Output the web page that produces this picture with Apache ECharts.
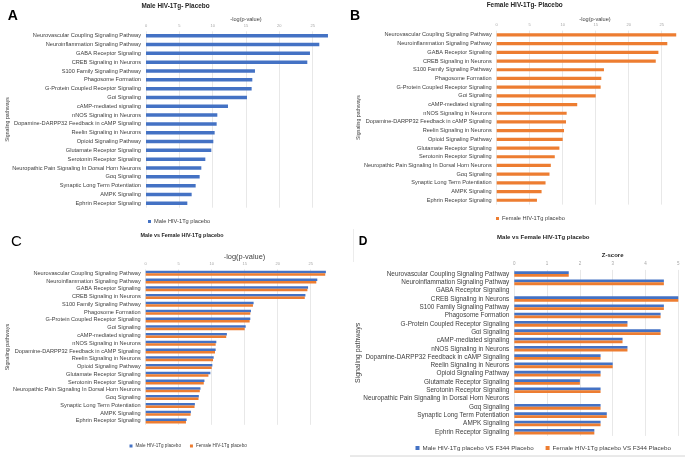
<!DOCTYPE html>
<html>
<head>
<meta charset="utf-8">
<script src="https://cdn.jsdelivr.net/npm/echarts@6/dist/echarts.min.js"></script>
<style>
  html, body { margin: 0; padding: 0; background: #fff; }
  #chart { width: 685px; height: 457px; }
</style>
</head>
<body>
<div id="chart"></div>
<script>
const pathways = [
  'Neurovascular Coupling Signaling Pathway',
  'Neuroinflammation Signaling Pathway',
  'GABA Receptor Signaling',
  'CREB Signaling in Neurons',
  'S100 Family Signaling Pathway',
  'Phagosome Formation',
  'G-Protein Coupled Receptor Signaling',
  'Gαi Signaling',
  'cAMP-mediated signaling',
  'nNOS Signaling in Neurons',
  'Dopamine-DARPP32 Feedback in cAMP Signaling',
  'Reelin Signaling in Neurons',
  'Opioid Signaling Pathway',
  'Glutamate Receptor Signaling',
  'Serotonin Receptor Signaling',
  'Neuropathic Pain Signaling In Dorsal Horn Neurons',
  'Gαq Signaling',
  'Synaptic Long Term Potentiation',
  'AMPK Signaling',
  'Ephrin Receptor Signaling'
];

// -log(p-value)
const maleLogP = [27.3, 26.0, 24.6, 24.2, 16.35, 15.95, 15.85, 15.15, 12.3, 10.7, 10.6, 10.3, 10.1, 9.8, 8.9, 8.3, 8.05, 7.45, 6.85, 6.2];
const femaleLogP = [27.2, 25.85, 24.5, 24.1, 16.25, 15.85, 15.75, 15.0, 12.2, 10.6, 10.5, 10.2, 10.0, 9.5, 8.8, 8.2, 8.0, 7.4, 6.8, 6.1];

// z-scores (no value for GABA and neuropathic pain)
const maleZ = [1.66, 4.56, null, 5.0, 4.56, 4.46, 3.45, 4.46, 3.3, 3.45, 2.63, 3.0, 2.63, 2.0, 2.63, null, 2.63, 2.82, 2.63, 2.44];
const femaleZ = [1.66, 4.56, null, 5.0, 4.56, 4.46, 3.45, 4.46, 3.3, 3.45, 2.63, 3.0, 2.63, 2.0, 2.63, null, 2.63, 2.82, 2.63, 2.44];

const BLUE = '#4472C4';
const ORANGE = '#ED7D31';
const FONT = '"Liberation Sans", Arial, sans-serif';
const LabelColor = '#404040';

const myChart = echarts.init(document.getElementById('chart'), null, { renderer: 'canvas' });

const grids = [
  { left: 146, top: 31.3, width: 183.3, height: 176.4 },
  { left: 496.7, top: 30.6, width: 181.5, height: 174 },
  { left: 145.7, top: 269.4, width: 181.5, height: 155.4 },
  { left: 514.3, top: 269.9, width: 164, height: 166 }
].map(g => Object.assign(g, { outerBoundsMode: 'none' }));

function makeX(i, max, tickSize) {
  return {
    gridIndex: i,
    type: 'value',
    position: 'top',
    min: 0,
    max: max,
    interval: max > 10 ? 5 : 1,
    axisLine: { show: false },
    axisTick: { show: false },
    axisLabel: {
      fontSize: tickSize,
      color: '#a6a6a6',
      fontFamily: FONT,
      margin: 3.5,
      showMaxLabel: max === 5
    },
    splitLine: {
      show: true,
      showMaxLine: max === 5,
      lineStyle: { color: '#d9d9d9', width: 0.6 }
    }
  };
}

function makeY(i, labelSize, nameSize, nameGap) {
  return {
    gridIndex: i,
    type: 'category',
    inverse: true,
    data: pathways,
    axisLine: { show: false },
    axisTick: { show: false },
    axisLabel: { interval: 0, fontSize: labelSize, color: LabelColor, fontFamily: FONT, margin: 5 },
    name: 'Signaling pathways',
    nameLocation: 'middle',
    nameGap: nameGap,
    nameMoveOverlap: false,
    nameTextStyle: { fontSize: nameSize, color: LabelColor, fontFamily: FONT }
  };
}

function bar(name, data, idx, color, width) {
  return {
    name: name,
    type: 'bar',
    xAxisIndex: idx,
    yAxisIndex: idx,
    data: data,
    barWidth: width,
    barGap: '0%',
    itemStyle: { color: color },
    silent: true
  };
}

function txt(text, x, y, size, weight, color) {
  return {
    type: 'text',
    x: x,
    y: y,
    style: {
      text: text,
      fontSize: size,
      fontWeight: weight || 'normal',
      fontFamily: FONT,
      fill: color || '#262626',
      textAlign: 'center',
      textVerticalAlign: 'middle'
    }
  };
}

const option = {
  animation: false,
  grid: grids,
  xAxis: [makeX(0, 27.5, 4), makeX(1, 27.5, 4), makeX(2, 27.5, 4), makeX(3, 5, 4.5)],
  yAxis: [makeY(0, 5.65, 5.2, 136), makeY(1, 5.6, 5.2, 136), makeY(2, 5.6, 5.4, 136), makeY(3, 6.4, 7, 153)],
  legend: [
    {
      left: 143, top: 213.5, itemWidth: 3, itemHeight: 3, icon: 'rect', itemGap: 10,
      data: ['Male HIV-1Tg placebo'],
      textStyle: { fontSize: 5.7, color: LabelColor, fontFamily: FONT, padding: [0, 0, 0, -2] }
    },
    {
      left: 491, top: 210.5, itemWidth: 3, itemHeight: 3, icon: 'rect', itemGap: 10,
      data: ['Female HIV-1Tg placebo'],
      textStyle: { fontSize: 5.7, color: LabelColor, fontFamily: FONT, padding: [0, 0, 0, -2] }
    },
    {
      left: 124.5, top: 438.5, itemWidth: 3, itemHeight: 3, icon: 'rect', itemGap: 9,
      data: ['Male HIV-1Tg placebo', 'Female HIV-1Tg placebo'],
      textStyle: { fontSize: 4.6, color: LabelColor, fontFamily: FONT, padding: [0, 0, 0, -2] }
    },
    {
      left: 410.5, top: 440, itemWidth: 4, itemHeight: 4, icon: 'rect', itemGap: 12,
      data: ['Male HIV-1Tg placebo VS F344 Placebo', 'Female HIV-1Tg placebo VS F344 Placebo'],
      textStyle: { fontSize: 6.2, color: LabelColor, fontFamily: FONT, padding: [0, 0, 0, -2] }
    }
  ],
  series: [
    bar('Male HIV-1Tg placebo', maleLogP, 0, BLUE, 3.5),
    bar('Female HIV-1Tg placebo', femaleLogP, 1, ORANGE, 3.2),
    bar('Male HIV-1Tg placebo', maleLogP, 2, BLUE, 2.5),
    bar('Female HIV-1Tg placebo', femaleLogP, 2, ORANGE, 2.5),
    bar('Male HIV-1Tg placebo VS F344 Placebo', maleZ, 3, BLUE, 2.8),
    bar('Female HIV-1Tg placebo VS F344 Placebo', femaleZ, 3, ORANGE, 2.8)
  ],
  graphic: [
    txt('A', 12.8, 15.7, 14, 'bold', '#000'),
    txt('B', 355, 16.3, 14, 'bold', '#000'),
    txt('C', 16.3, 242.3, 15, 'normal', '#000'),
    txt('D', 363, 241.7, 12, 'bold', '#000'),
    txt('Male HIV-1Tg- Placebo', 175.5, 6, 6.4, 'bold'),
    txt('Female HIV-1Tg- Placebo', 524.7, 5.6, 6.4, 'bold'),
    txt('Male vs Female HIV-1Tg placebo', 182, 235.3, 5.4, 'bold'),
    txt('Male vs Female HIV-1Tg placebo', 543.3, 237.3, 6, 'bold'),
    txt('-log(p-value)', 246, 19.3, 5.6, 'normal', LabelColor),
    txt('-log(p-value)', 595, 19.7, 5.6, 'normal', LabelColor),
    txt('-log(p-value)', 244.5, 257.3, 7.4, 'normal', LabelColor),
    txt('Z-score', 612.7, 255, 6, 'bold'),
    {
      type: 'line',
      shape: { x1: 350, y1: 456, x2: 685, y2: 456 },
      style: { stroke: '#d4d4d4', lineWidth: 1 }
    },
    {
      type: 'line',
      shape: { x1: 353.5, y1: 229, x2: 353.5, y2: 262 },
      style: { stroke: '#ececec', lineWidth: 1 }
    }
  ]
};

myChart.setOption(option);
</script>
</body>
</html>
